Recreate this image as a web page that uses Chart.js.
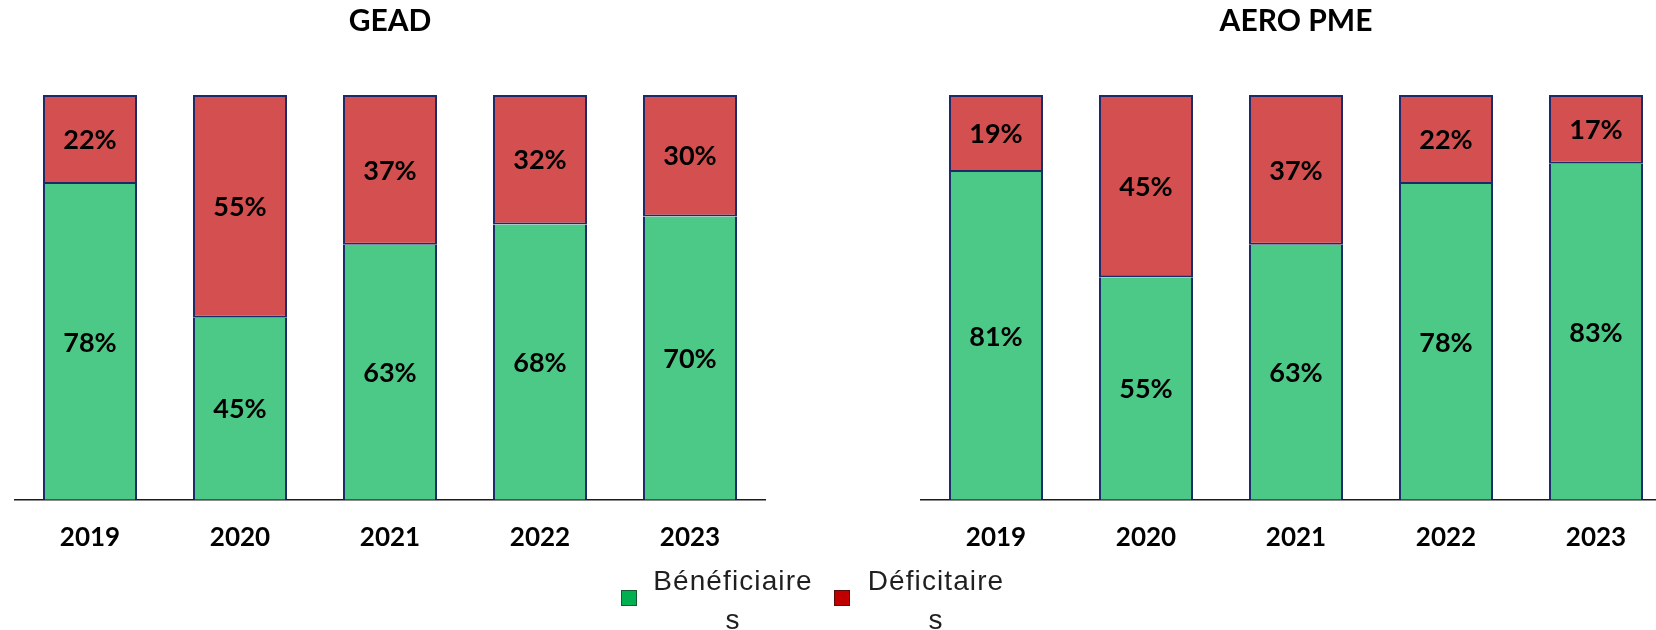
<!DOCTYPE html>
<html>
<head>
<meta charset="utf-8">
<script src="https://cdn.jsdelivr.net/npm/chart.js@4.4.1/dist/chart.umd.min.js"></script>
<style>
    html, body { margin: 0; padding: 0; width: 1656px; height: 630px; overflow: hidden; background: #fff; }
    #chart-left { position: absolute; left: 0; top: 0; }
    #chart-right { position: absolute; left: 906px; top: 0; }
    .legend-item { position: absolute; top: 561px; font-family: "Liberation Sans", Arial, sans-serif; font-size: 28px; letter-spacing: 1.1px; color: #1f1f1f; text-align: center; line-height: 39px; }
    .legend-box { position: absolute; width: 14px; height: 14px; top: 590px; }
</style>
</head>
<body>
<canvas id="chart-left" width="780" height="582"></canvas>
<canvas id="chart-right" width="780" height="582"></canvas>

<div class="legend-box" style="left:621px; background:#00b050; border:1px solid #145a32;"></div>
<div class="legend-item" style="left:646px; width:174px;">Bénéficiaire<br>s</div>
<div class="legend-box" style="left:834px; background:#c00000; border:1px solid #5c0a0a;"></div>
<div class="legend-item" style="left:866px; width:140px;">Déficitaire<br>s</div>

<script>
const years = ['2019', '2020', '2021', '2022', '2023'];
const seriesNames = ['Bénéficiaires', 'Déficitaires'];

// GEAD
const geadBenef = [78, 45, 63, 68, 70];
const geadDefic = [22, 55, 37, 32, 30];

// AERO PME
const aeroBenef = [81, 55, 63, 78, 83];
const aeroDefic = [19, 45, 37, 22, 17];

const greenFill = '#4dc987';
const redFill = '#d44f4f';
const barBorder = '#1b2a6b';

// draws the % value in the middle of each bar segment
const barLabels = {
    id: 'barLabels',
    afterDatasetsDraw(chart) {
        const ctx = chart.ctx;
        ctx.save();
        ctx.font = 'bold 27px Lato, "Open Sans", sans-serif';
        ctx.fillStyle = '#000';
        ctx.textAlign = 'center';
        ctx.textBaseline = 'middle';
        chart.data.datasets.forEach((ds, i) => {
            const meta = chart.getDatasetMeta(i);
            meta.data.forEach((bar, j) => {
                const y = (bar.y + bar.base) / 2;
                ctx.fillText(ds.data[j] + '%', bar.x, y + 1);
            });
        });
        ctx.restore();
    }
};

function makeChart(canvasId, title, benef, defic) {
    const ctx = document.getElementById(canvasId).getContext('2d');
    return new Chart(ctx, {
        type: 'bar',
        data: {
            labels: years,
            datasets: [
                {
                    label: seriesNames[0],
                    data: benef,
                    backgroundColor: greenFill,
                    borderColor: barBorder,
                    borderWidth: { top: 0, left: 2, right: 2, bottom: 0 },
                    borderSkipped: false,
                    inflateAmount: 0
                },
                {
                    label: seriesNames[1],
                    data: defic,
                    backgroundColor: redFill,
                    borderColor: barBorder,
                    borderWidth: { top: 2, left: 2, right: 2, bottom: 2 },
                    borderSkipped: false,
                    inflateAmount: 0
                }
            ]
        },
        options: {
            responsive: false,
            animation: false,
            layout: { padding: { left: 15, right: 15, top: 0, bottom: 7 } },
            categoryPercentage: 1,
            barPercentage: 0.627,
            plugins: {
                legend: { display: false },
                tooltip: { enabled: false },
                title: {
                    display: true,
                    text: title,
                    color: '#000',
                    font: { family: 'Lato, "Open Sans", sans-serif', size: 30, weight: 'bold' },
                    padding: { top: 3, bottom: 56 }
                }
            },
            scales: {
                x: {
                    stacked: true,
                    grid: { display: false, drawTicks: false },
                    border: { display: true, color: '#1a1a1a', width: 1.5 },
                    ticks: {
                        color: '#000',
                        padding: 22,
                        font: { family: 'Lato, "Open Sans", sans-serif', size: 26, weight: 'bold' }
                    }
                },
                y: {
                    stacked: true,
                    display: false,
                    min: 0,
                    max: 100
                }
            }
        },
        plugins: [barLabels]
    });
}

makeChart('chart-left', 'GEAD', geadBenef, geadDefic);
makeChart('chart-right', 'AERO PME', aeroBenef, aeroDefic);
</script>
</body>
</html>
